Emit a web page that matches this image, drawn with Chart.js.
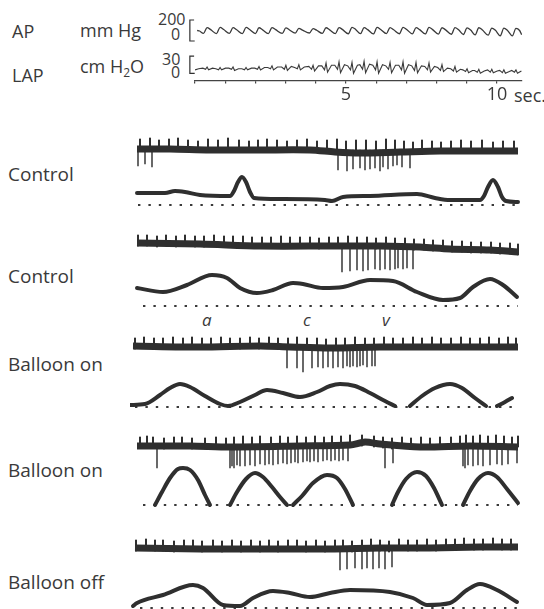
<!DOCTYPE html>
<html>
<head>
<meta charset="utf-8">
<script src="https://cdn.jsdelivr.net/npm/chart.js@4.4.1/dist/chart.umd.min.js"></script>
<style>
  html, body { margin: 0; padding: 0; background: #fff; }
  #page { position: relative; width: 544px; height: 609px; overflow: hidden;
          font-family: 'Open Sans', sans-serif; color: #3a3a3a; }
  canvas { position: absolute; }
  .lbl { position: absolute; white-space: nowrap; line-height: 1; }
  .big { font-size: 18px; }
  .panel { font-size: 19px; left: 8px; }
  .num { font-size: 16px; }
  .wave { font-size: 17px; font-style: italic; }
</style>
</head>
<body>
<div id="page">
  <div class="lbl big" style="left:12px;top:22px">AP</div>
  <div class="lbl big" style="left:80px;top:21px">mm Hg</div>
  <div class="lbl num" style="left:158px;top:11px">200</div>
  <div class="lbl num" style="left:171px;top:26px">0</div>
  <div class="lbl big" style="left:12px;top:66px">LAP</div>
  <div class="lbl big" style="left:80px;top:57px">cm H<sub style="font-size:12px;vertical-align:-4px">2</sub>O</div>
  <div class="lbl num" style="left:162px;top:51px">30</div>
  <div class="lbl num" style="left:171px;top:64px">0</div>
  <div class="lbl big" style="left:514px;top:86px">sec.</div>

  <div class="lbl panel" style="top:165px">Control</div>
  <div class="lbl panel" style="top:267px">Control</div>
  <div class="lbl panel" style="top:355px">Balloon on</div>
  <div class="lbl panel" style="top:461px">Balloon on</div>
  <div class="lbl panel" style="top:573px">Balloon off</div>

  <div class="lbl wave" style="left:202px;top:311px">a</div>
  <div class="lbl wave" style="left:303px;top:311px">c</div>
  <div class="lbl wave" style="left:382px;top:311px">v</div>

  <canvas id="ap"  width="340" height="30" style="left:185px;top:14px"></canvas>
  <canvas id="lap" width="340" height="57" style="left:185px;top:50px"></canvas>
  <canvas id="n1" width="392" height="45" style="left:130px;top:132px"></canvas>
  <canvas id="p1" width="392" height="40" style="left:130px;top:170px"></canvas>
  <canvas id="n2" width="392" height="48" style="left:130px;top:228px"></canvas>
  <canvas id="p2" width="392" height="40" style="left:130px;top:270px"></canvas>
  <canvas id="n3" width="392" height="48" style="left:130px;top:330px"></canvas>
  <canvas id="p3" width="392" height="33" style="left:130px;top:378px"></canvas>
  <canvas id="n4" width="392" height="44" style="left:130px;top:430px"></canvas>
  <canvas id="p4" width="392" height="47" style="left:130px;top:462px"></canvas>
  <canvas id="n5" width="392" height="42" style="left:130px;top:532px"></canvas>
  <canvas id="p5" width="392" height="31" style="left:130px;top:578px"></canvas>
</div>
<script>
// ── Top record: arterial pressure (mm Hg) and left atrial pressure (cm H2O), time in s ──
const apTime = [0.07, 0.15,
  0.28, 0.40, 0.52,  0.71, 0.83, 0.95,  1.14, 1.26, 1.38,  1.57, 1.69, 1.81,  2.00, 2.12, 2.24,
  2.43, 2.55, 2.67,  2.89, 3.01, 3.13,  3.32, 3.44, 3.56,  3.79, 3.91, 4.03,  4.22, 4.34, 4.46,
  4.65, 4.77, 4.89,  5.08, 5.20, 5.32,  5.48, 5.60, 5.72,  5.91, 6.03, 6.15,  6.34, 6.46, 6.58,
  6.77, 6.89, 7.01,  7.20, 7.32, 7.44,  7.63, 7.75, 7.87,  8.06, 8.18, 8.30,  8.49, 8.61, 8.73,
  8.89, 9.01, 9.13,  9.28, 9.40, 9.52,  9.71, 9.83, 9.95,  10.11, 10.23, 10.35,  10.51, 10.63, 10.75,
  10.82];
const apPressure = [100, 95,
  72, 128, 108,  70, 130, 110,  72, 127, 107,  70, 129, 110,  71, 126, 106,
  70, 128, 108,  72, 125, 105,  74, 120, 104,  76, 118, 102,  72, 126, 106,
  70, 128, 108,  69, 130, 110,  70, 127, 108,  68, 129, 109,  70, 128, 107,
  69, 130, 110,  68, 127, 108,  67, 129, 108,  66, 126, 106,  64, 128, 107,
  62, 124, 104,  58, 126, 105,  55, 123, 102,  50, 122, 100,  48, 120, 100,
  60];
const lapTime = [0.00, 0.12,
  0.26, 0.35, 0.40, 0.45, 0.58,   0.69, 0.78, 0.83, 0.88, 1.01,   1.12, 1.21, 1.26, 1.31, 1.44,
  1.55, 1.64, 1.69, 1.74, 1.87,   1.98, 2.07, 2.12, 2.17, 2.30,   2.41, 2.50, 2.55, 2.60, 2.73,
  2.87, 2.96, 3.01, 3.06, 3.19,   3.30, 3.39, 3.44, 3.49, 3.62,   3.77, 3.86, 3.91, 3.96, 4.09,
  4.20, 4.29, 4.34, 4.39, 4.52,   4.63, 4.72, 4.77, 4.82, 4.95,   5.06, 5.15, 5.20, 5.25, 5.38,
  5.46, 5.55, 5.60, 5.65, 5.78,   5.89, 5.98, 6.03, 6.08, 6.21,   6.32, 6.41, 6.46, 6.51, 6.64,
  6.75, 6.84, 6.89, 6.94, 7.07,   7.18, 7.27, 7.32, 7.37, 7.50,   7.61, 7.70, 7.75, 7.80, 7.93,
  8.04, 8.13, 8.18, 8.23, 8.36,   8.47, 8.56, 8.61, 8.66, 8.79,   8.87, 8.96, 9.01, 9.06, 9.19,
  9.26, 9.35, 9.40, 9.45, 9.58,   9.69, 9.78, 9.83, 9.88, 10.01,  10.09, 10.18, 10.23, 10.28, 10.41,
  10.49, 10.58, 10.63, 10.68, 10.81];
const lapPressure = [6, 8,
  9, 7, 11, 6, 9,     8, 6, 10, 6, 9,     9, 7, 11, 5, 8,
  8, 6, 10, 6, 9,     9, 7, 12, 6, 10,    10, 8, 13, 6, 11,
  11, 7, 14, 5, 12,   10, 8, 15, 6, 11,   12, 7, 14, 4, 13,
  13, 6, 18, 2, 14,   14, 7, 20, 1, 15,   13, 6, 19, 0, 14,
  15, 7, 21, 1, 16,   14, 6, 20, 0, 15,   13, 7, 19, 1, 14,
  14, 6, 20, 0, 15,   13, 5, 19, 1, 13,   12, 6, 18, 2, 12,
  10, 5, 15, 3, 9,    8, 4, 12, 2, 7,     6, 3, 8, 1, 5,
  5, 2, 7, 0, 4,      6, 2, 7, 1, 4,      5, 1, 6, 0, 3,
  5, 2, 6, 0, 4];
const apCal = [0, 200];          // mm Hg calibration bracket
const lapCal = [0, 30];          // cm H2O calibration bracket
const timeTicks = [0, 1, 2, 3, 4, 5, 6, 7, 8, 9, 10];
const timeLabels = { 5: '5', 10: '10' };

// ── Panels: nerve activity (upper) and atrial pressure (lower), sweep time in ms ──
// Control 1
const p1BandT = [7, 40, 80, 130, 180, 205, 230, 270, 310, 350, 388];
const p1BandV = [1, 1, 0, 0, 0, -2, -3, -2, -1, -1, -1];
const p1UpT = [10, 20, 29, 39, 48, 58, 68, 78, 88, 98, 109, 119, 128, 137, 147, 157, 167, 177, 187, 197,
  207, 216, 226, 236, 246, 256, 265, 274, 283, 292, 302, 311, 321, 331, 341, 352, 363, 373, 384];
const p1UpTop = [11, 12, 10, 11, 12, 10, 9, 11, 10, 12, 10, 9, 10, 11, 10, 9, 10, 11, 9, 10,
  11, 9, 10, 10, 9, 11, 10, 9, 8, 10, 9, 8, 9, 10, 9, 10, 8, 9, 9];
const p1DownT = [8, 15, 22, 208, 217, 223, 230, 235, 240, 245, 250, 253, 258, 263, 267, 272, 280];
const p1DownV = [-16, -14, -17, -20, -21, -19, -18, -20, -19, -18, -21, -17, -19, -16, -15, -17, -18];
const p1PressT = [7, 35, 45, 55, 70, 100, 104, 108, 112, 116, 120, 124, 150, 195, 202, 213, 240, 287, 305, 320,
  350, 354, 358, 363, 368, 372, 376, 388];
const p1PressV = [12, 12, 14, 13, 10, 9, 14, 23, 28, 23, 13, 7, 6, 5, 4, 8, 9, 11, 7, 5,
  5, 9, 18, 25, 18, 8, 4, 3];
const p1DotsT = [8, 388];

// Control 2
const p2BandT = [7, 70, 130, 200, 250, 290, 320, 360, 388];
const p2BandV = [2, 1, -1, -1, -1, -2, -4, -5, -7];
const p2UpT = [8, 17, 27, 36, 46, 55, 65, 74, 84, 94, 103, 113, 122, 132, 141, 151, 160, 170, 180, 189,
  199, 208, 218, 227, 237, 246, 256, 265, 275, 284, 294, 303, 313, 322, 332, 341, 351, 361, 370, 380, 388];
const p2UpTop = [10, 10, 9, 10, 9, 10, 9, 9, 10, 9, 9, 9, 8, 8, 8, 9, 8, 8, 8, 7,
  8, 8, 9, 8, 8, 7, 8, 7, 7, 6, 6, 5, 5, 4, 4, 3, 3, 3, 2, 2, 1];
const p2DownT = [212, 220, 227, 233, 238, 245, 250, 255, 260, 265, 268, 273, 277, 283];
const p2DownV = [-27, -26, -25, -26, -25, -24, -25, -24, -25, -24, -23, -24, -23, -24];
const p2PressT = [7, 33, 57, 82, 97, 110, 127, 143, 163, 173, 193, 213, 240, 263, 287, 313, 330, 343, 360, 373, 387];
const p2PressV = [18, 14, 21, 31, 28, 18, 13, 16, 23, 22, 18, 19, 26, 25, 14, 6, 8, 19, 27, 21, 9];
const p2DotsT = [13, 388];

// Balloon on 1
const p3BandT = [3, 70, 130, 160, 200, 250, 320, 388];
const p3BandV = [0, -1, 0, -1, -2, -1, -1, -1];
const p3UpT = [5, 14, 24, 33, 43, 53, 62, 72, 81, 91, 100, 110, 120, 129, 139, 148, 158, 167, 177, 187,
  196, 206, 215, 225, 235, 244, 254, 263, 273, 283, 292, 302, 311, 321, 331, 340, 350, 359, 369, 378, 386];
const p3UpTop = [8, 9, 8, 8, 9, 8, 9, 8, 8, 9, 8, 8, 9, 8, 9, 8, 8, 9, 8, 8,
  7, 8, 8, 9, 8, 8, 9, 8, 8, 9, 8, 9, 8, 8, 9, 8, 8, 9, 8, 9, 8];
const p3DownT = [157, 167, 173, 182, 188, 193, 198, 203, 208, 213, 217, 220, 223, 227, 230, 233, 237, 242, 245];
const p3DownV = [-22, -22, -26, -22, -21, -22, -21, -22, -21, -22, -20, -21, -20, -21, -20, -19, -21, -20, -20];
const p3PressT = [0, 15, 30, 40, 50, 60, 75, 90, 98, 110, 125, 137, 153, 170, 187, 200, 210, 225, 240, 255,
  265, 272, 280, 292, 305, 320, 332, 345, 356, 362, 367, 375, 382];
const p3PressV = [2, 3, 12, 19, 23, 20, 11, 3, 1, 5, 12, 17, 14, 10, 15, 21, 23, 21, 14, 6,
  1, null, 1, 11, 19, 23, 19, 9, 1, null, 1, 5, 9];
const p3DotsT = [5, 385];

// Balloon on 2
const p4BandT = [7, 60, 100, 170, 220, 235, 250, 290, 340, 388];
const p4BandV = [0, 0, -1, 0, 1, 4, 2, -1, 0, -1];
const p4UpT = [10, 17, 23, 34, 44, 52, 62, 75, 86, 96, 104, 113, 122, 130, 141, 150, 158, 167, 176, 185,
  194, 202, 211, 220, 232, 244, 253, 262, 272, 281, 291, 300, 310, 321, 330, 336, 343, 350, 358, 366, 374, 382, 388];
const p4UpTop = [9, 10, 9, 8, 9, 9, 8, 8, 9, 8, 9, 10, 9, 10, 9, 10, 9, 10, 9, 10,
  9, 10, 10, 11, 11, 10, 9, 8, 9, 8, 9, 8, 9, 9, 10, 11, 10, 11, 10, 11, 10, 9, 10];
const p4DownT = [27, 100, 102, 104, 107, 110, 115, 120, 125, 130, 135, 139, 143, 148, 153, 157, 161, 165, 168, 173,
  177, 180, 184, 188, 193, 197, 201, 205, 209, 213, 218, 255, 263, 333, 335, 338, 343, 348, 353, 360, 367, 372, 378, 387];
const p4DownV = [-22, -22, -20, -22, -19, -20, -20, -19, -20, -18, -19, -18, -19, -18, -17, -18, -17, -16, -17, -16,
  -15, -16, -15, -16, -15, -14, -15, -14, -15, -14, -15, -22, -17, -20, -22, -19, -20, -19, -20, -19, -18, -19, -18, -17];
const p4PressT = [25, 32, 40, 48, 53, 60, 68, 75, 80, 81, 100, 107, 116, 125, 133, 142, 150, 157, 158, 163,
  172, 183, 197, 207, 215, 223, 224, 262, 268, 276, 287, 296, 304, 312, 313, 333, 340, 348, 358, 367, 377, 388];
const p4PressV = [0, 13, 27, 36, 37, 35, 25, 10, 0, null, 0, 13, 26, 32, 28, 18, 8, 0, null, 0,
  9, 22, 30, 27, 16, 0, null, 0, 13, 26, 33, 29, 17, 0, null, 0, 14, 26, 32, 28, 16, 2];
const p4DotsT = [13, 388];

// Balloon off
const p5BandT = [5, 70, 130, 200, 250, 300, 350, 388];
const p5BandV = [0, -1, -1, -1, 0, 0, 1, 1];
const p5UpT = [6, 16, 25, 33, 44, 54, 63, 72, 83, 92, 102, 111, 121, 130, 139, 148, 158, 167, 176, 186,
  195, 205, 213, 222, 232, 241, 250, 259, 269, 278, 287, 297, 306, 316, 325, 334, 344, 353, 363, 372, 381];
const p5UpTop = [8, 9, 8, 8, 7, 8, 8, 7, 8, 7, 8, 7, 8, 7, 8, 7, 8, 8, 7, 8,
  7, 8, 8, 7, 8, 9, 8, 7, 9, 8, 8, 9, 8, 9, 9, 10, 9, 9, 10, 9, 9];
const p5DownT = [210, 217, 225, 232, 237, 243, 249, 255, 262];
const p5DownV = [-22, -21, -20, -21, -20, -21, -20, -21, -19];
const p5PressT = [3, 7, 33, 63, 73, 93, 110, 123, 143, 160, 180, 200, 220, 260, 283, 297, 320, 337, 350, 367, 387];
const p5PressV = [2, 5, 13, 23, 20, 3, 2, 10, 17, 15, 11, 15, 18, 16, 10, 3, 5, 18, 24, 18, 6];
const p5DotsT = [10, 387];

// ── Helpers ──
const INK = '#2f2f2f';
const pts = (xs, ys) => xs.map((x, i) => ({ x, y: ys[i] }));

function makeChart(id, xRange, yRange, datasets, extra) {
  extra = extra || {};
  return new Chart(document.getElementById(id), {
    type: 'line',
    data: { datasets },
    options: {
      responsive: false,
      animation: false,
      events: [],
      layout: { padding: extra.padding || 0 },
      plugins: { legend: { display: false }, tooltip: { enabled: false } },
      elements: { point: { radius: 0 } },
      scales: {
        x: Object.assign({ type: 'linear', min: xRange[0], max: xRange[1], display: false, offset: false }, extra.x || {}),
        y: { type: 'linear', min: yRange[0], max: yRange[1], display: false }
      }
    }
  });
}

function bracket(cal) {
  return {
    data: [{ x: -0.03, y: cal[1] }, { x: -0.17, y: cal[1] }, { x: -0.17, y: cal[0] }, { x: -0.01, y: cal[0] }],
    borderColor: INK, borderWidth: 1.2, clip: false, tension: 0
  };
}

function nervePanel(id, yRange, bandT, bandV, upT, upTop, downT, downV) {
  makeChart(id, [0, 392], yRange, [
    { data: pts(bandT, bandV), borderColor: INK, borderWidth: 7, tension: 0.3 },
    { type: 'bar', data: upT.map((t, i) => ({ x: t, y: [upTop[i] - 11, upTop[i]] })),
      backgroundColor: INK, barThickness: 1.4, grouped: false },
    { type: 'bar', data: downT.map((t, i) => ({ x: t, y: [downV[i], 0] })),
      backgroundColor: '#4a4a4a', barThickness: 1, grouped: false }
  ]);
}

function pressurePanel(id, yRange, pT, pV, dotsT) {
  makeChart(id, [0, 392], yRange, [
    { data: pts(pT, pV), borderColor: INK, borderWidth: 4, cubicInterpolationMode: 'monotone',
      borderCapStyle: 'round', borderJoinStyle: 'round' },
    { data: dotsT.map(t => ({ x: t, y: 0 })), borderColor: '#3a3a3a', borderWidth: 2.2,
      borderDash: [2.4, 8], borderCapStyle: 'butt' }
  ]);
}

// ── Top record ──
const topPad = { left: 10, right: 3, top: 0, bottom: 0 };
makeChart('ap', [0, 10.83], [-28.6, 257], [
  { data: pts(apTime, apPressure), borderColor: '#3a3a3a', borderWidth: 1.3, cubicInterpolationMode: 'monotone' },
  bracket(apCal)
], { padding: topPad });

makeChart('lap', [0, 10.83], [-12.35, 40.6], [
  { data: pts(lapTime, lapPressure), borderColor: '#3a3a3a', borderWidth: 1.1, tension: 0 },
  bracket(lapCal)
], {
  padding: topPad,
  x: {
    display: true,
    border: { display: true, color: '#444', width: 1.2 },
    grid: { drawOnChartArea: false, drawTicks: true, tickLength: 3, color: '#444', lineWidth: 1.2 },
    afterBuildTicks: s => { s.ticks = timeTicks.map(v => ({ value: v })); },
    ticks: {
      autoSkip: false, maxRotation: 0, padding: 1, color: '#3a3a3a',
      font: { family: 'Open Sans', size: 18 },
      callback: v => timeLabels[v] || ''
    }
  }
});

// ── Panels ──
nervePanel('n1', [-27, 18], p1BandT, p1BandV, p1UpT, p1UpTop, p1DownT, p1DownV);
pressurePanel('p1', [-5, 35], p1PressT, p1PressV, p1DotsT);
nervePanel('n2', [-31, 17], p2BandT, p2BandV, p2UpT, p2UpTop, p2DownT, p2DownV);
pressurePanel('p2', [-4, 36], p2PressT, p2PressV, p2DotsT);
nervePanel('n3', [-32, 16], p3BandT, p3BandV, p3UpT, p3UpTop, p3DownT, p3DownV);
pressurePanel('p3', [-4, 29], p3PressT, p3PressV, p3DotsT);
nervePanel('n4', [-28, 16], p4BandT, p4BandV, p4UpT, p4UpTop, p4DownT, p4DownV);
pressurePanel('p4', [-4, 43], p4PressT, p4PressV, p4DotsT);
nervePanel('n5', [-26, 16], p5BandT, p5BandV, p5UpT, p5UpTop, p5DownT, p5DownV);
pressurePanel('p5', [-1, 30], p5PressT, p5PressV, p5DotsT);
</script>
</body>
</html>
